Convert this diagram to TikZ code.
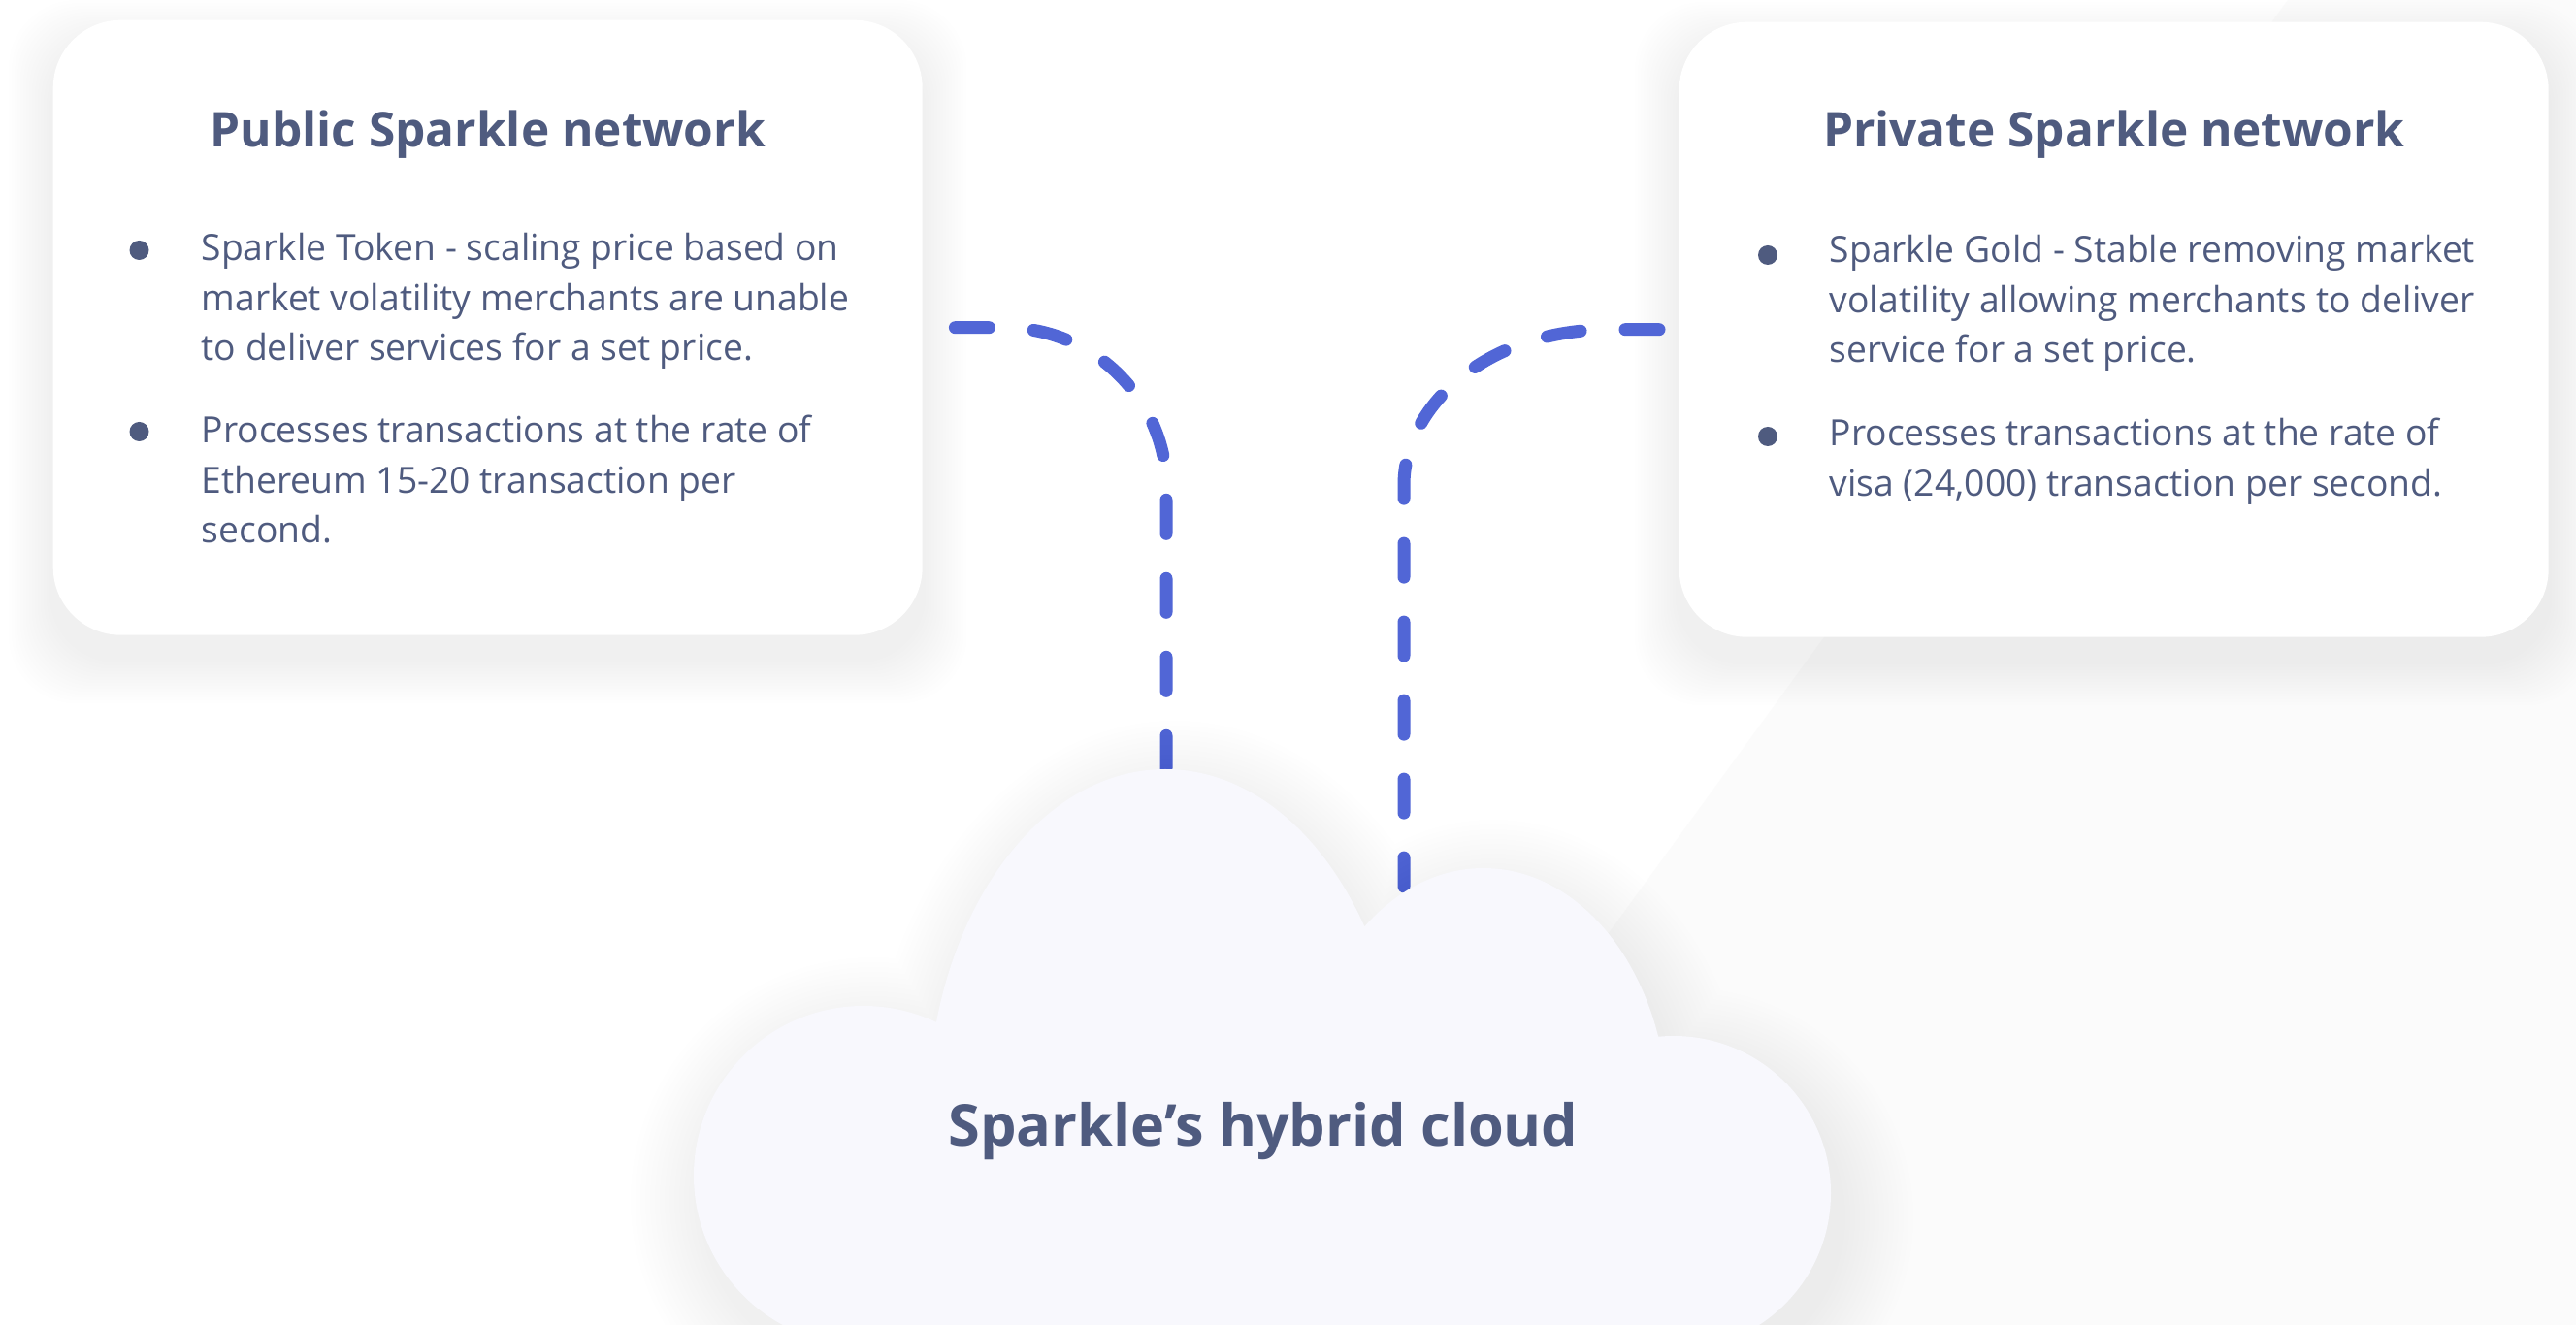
\documentclass[tikz,border=0pt]{standalone}
\usepackage{fontspec}
\setmainfont{Open Sans}
\usetikzlibrary{positioning,backgrounds}

\definecolor{sparkletext}{HTML}{4F5B7F}
\definecolor{sparklelink}{HTML}{5166D6}
\definecolor{cloudfill}{HTML}{F8F8FD}

\tikzstyle{netbox} = [fill=white, rectangle, rounded corners=0.7cm, inner sep=0pt,
    minimum width=8.96cm, minimum height=6.34cm]
\tikzstyle{nettitle} = [text=sparkletext, font=\fontsize{14.1}{18}\selectfont\bfseries, inner sep=0pt, anchor=base]
\tikzstyle{itemtext} = [text=sparkletext, font=\fontsize{10.6}{14.7}\selectfont, align=left, inner sep=0pt, anchor=north west]
\tikzstyle{itemdot} = [circle, fill=sparkletext, minimum size=0.2cm, inner sep=0pt]
\tikzstyle{link} = [draw=sparklelink, line width=0.13cm, line cap=round, dash pattern=on 0.35cm off 0.46cm]
\tikzstyle{haze} = [fill=black, opacity=0.0045]

% soft shadow under a box node
\newcommand{\boxshadow}[1]{%
  \foreach \d in {0.03,0.06,...,0.45}
    \fill [haze, rounded corners=0.7cm] ([shift={(-\d,-0.25+\d)}]#1.north west) rectangle ([shift={(\d,-0.25-\d)}]#1.south east);
}

\begin{document}
\begin{tikzpicture}
\useasboundingbox (0,0) rectangle (26.55,-13.66);
\clip (0,0) rectangle (26.55,-13.66);

\node [netbox, anchor=north west] (pub) at (0.54,-0.20) {};
\node [netbox, anchor=north west] (priv) at (17.30,-0.22) {};
\begin{scope}[on background layer]
  \fill[white] (0,0) rectangle (26.55,-13.66);
  \fill[black!1.5] (23.58,0) -- (26.55,0) -- (26.55,-13.66) -- (13.64,-13.66) -- cycle;
  \boxshadow{pub}
  \boxshadow{priv}
\end{scope}

\node [nettitle] (pubtitle) at ([yshift=-1.32cm]pub.north) {Public Sparkle network};
\node [itemdot] (pubdota) at ([shift={(0.895,-2.38)}]pub.north west) {};
\node [itemtext] (pubitema) at ([shift={(1.53,-2.194)}]pub.north west)
    {Sparkle Token - scaling price based on\\ market volatility merchants are unable\\ to deliver services for a set price.};
\node [itemdot] (pubdotb) at ([shift={(0.895,-4.25)}]pub.north west) {};
\node [itemtext] (pubitemb) at ([shift={(1.53,-4.074)}]pub.north west)
    {Processes transactions at the rate of\\ Ethereum 15-20 transaction per\\ second.};

\node [nettitle] (privtitle) at ([yshift=-1.30cm]priv.north) {Private Sparkle network};
\node [itemdot] (privdota) at ([shift={(0.92,-2.41)}]priv.north west) {};
\node [itemtext] (privitema) at ([shift={(1.55,-2.194)}]priv.north west)
    {Sparkle Gold - Stable removing market\\ volatility allowing merchants to deliver\\ service for a set price.};
\node [itemdot] (privdotb) at ([shift={(0.92,-4.28)}]priv.north west) {};
\node [itemtext] (privitemb) at ([shift={(1.55,-4.084)}]priv.north west)
    {Processes transactions at the rate of\\ visa (24,000) transaction per second.};

\coordinate (cloudl) at (12.02,-7.92);
\coordinate (cloudr) at (14.47,-9.14);
\draw [link] ([xshift=0.33cm]pub.east) -- ++(0.5,0)
    .. controls +(1,0) and +(0,0.8) .. ([yshift=2.92cm]cloudl) -- (cloudl);
\draw [link] ([xshift=-0.2cm]priv.west) -- ++(-0.5,0)
    .. controls +(-1.3,0) and +(0,0.8) .. ([yshift=4.14cm]cloudr) -- (cloudr);

% cloud with its shadow
\foreach \d in {0.05,0.1,...,0.8}
  \fill [haze]
    (12.11,-11.75) ellipse [x radius=2.45+\d, y radius=3.57+\d]
    (15.39,-11.75) ellipse [x radius=1.9+\d, y radius=2.55+\d]
    (17.35,-12.55) circle [radius=1.62+\d]
    (9.0,-12.37) circle [radius=1.75+\d]
    (9.0,-14.5) -- (17.35,-14.5) -- (17.35,-12.35) -- (9.0,-12.35) -- cycle;
\fill [cloudfill]
    (12.01,-11.5) ellipse [x radius=2.45, y radius=3.57]
    (15.29,-11.5) ellipse [x radius=1.9, y radius=2.55]
    (17.25,-12.3) circle [radius=1.62]
    (8.9,-12.12) circle [radius=1.75]
    (8.9,-14) -- (17.25,-14) -- (17.25,-12.1) -- (8.9,-12.1) -- cycle;
\node [text=sparkletext, font=\fontsize{16.9}{21}\selectfont\bfseries, inner sep=0pt, anchor=base] (cloudtitle)
    at (13.02,-11.81) {Sparkle’s hybrid cloud};
\end{tikzpicture}
\end{document}
